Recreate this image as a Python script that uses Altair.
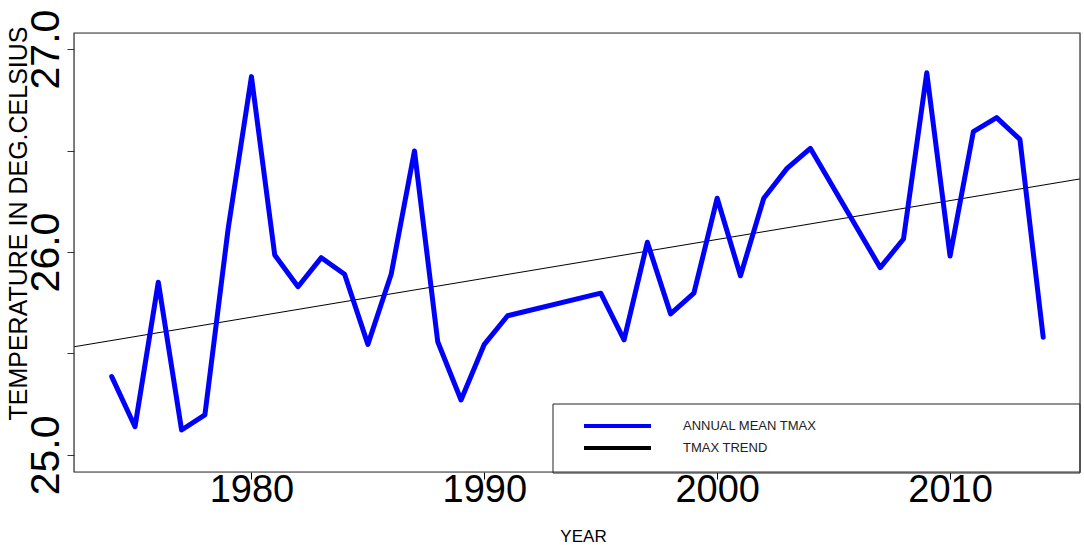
import altair as alt
import pandas as pd

# ---- data ----
years = [1974, 1975, 1976, 1977, 1978, 1979, 1980, 1981, 1982, 1983, 1984,
         1985, 1986, 1987, 1988, 1989, 1990, 1991, 1995, 1996, 1997, 1998,
         1999, 2000, 2001, 2002, 2003, 2004, 2007, 2008, 2009, 2010, 2011,
         2012, 2013, 2014]
tmax = [25.386, 25.139, 25.851, 25.123, 25.197, 26.115, 26.864, 25.985, 25.829,
        25.972, 25.890, 25.545, 25.890, 26.498, 25.558, 25.271, 25.545, 25.686,
        25.797, 25.567, 26.048, 25.695, 25.797, 26.265, 25.883, 26.265, 26.412,
        26.511, 25.923, 26.064, 26.883, 25.980, 26.593, 26.662, 26.555, 25.580]
trend_years = [1972.38, 2015.58]
trend_vals = [25.533, 26.360]
x_ticks = [1980, 1990, 2000, 2010]
y_ticks = [25.0, 25.5, 26.0, 26.5, 27.0]
legend_labels = ["ANNUAL MEAN TMAX", "TMAX TREND"]
legend_colors = ["#0000ff", "#000000"]

FONT = "Liberation Sans"

df = pd.DataFrame({"year": years, "tmax": tmax})
trend_df = pd.DataFrame({"year": trend_years, "tmax": trend_vals})

xscale = alt.Scale(domain=[1972.38, 2015.58], nice=False, zero=False)
yscale = alt.Scale(domain=[24.916, 27.079], nice=False, zero=False)

xaxis = alt.Axis(
    values=x_ticks, format="d", title="YEAR", grid=False, domain=False,
    labelFont=FONT, labelFontSize=38, labelColor="black", labelPadding=-8,
    labelBaseline="top", labelAlign="center", labelFlush=False, labelOverlap=False,
    tickSize=7, tickColor="black",
    titleFont=FONT, titleFontSize=17, titleFontWeight="normal", titleColor="black",
    titleX=509, titleY=69, titleBaseline="alphabetic",
)
yaxis = alt.Axis(
    values=y_ticks,
    labelExpr="datum.value % 1 == 0 ? format(datum.value, '.1f') : ''",
    title="TEMPERATURE IN DEG.CELSIUS", grid=False, domain=False,
    labelFont=FONT, labelFontSize=41, labelColor="black", labelAngle=270,
    labelAlign="center", labelBaseline="alphabetic", labelPadding=9,
    labelOverlap=False, labelBound=False, labelFlush=False,
    tickSize=7, tickColor="#333",
    titleFont=FONT, titleFontSize=25, titleFontWeight="normal", titleColor="black",
    titleAngle=270, titleX=-56, titleY=190, titleBaseline="middle", titleAlign="center",
)

base = alt.Chart(df)

trend = alt.Chart(trend_df).mark_line(color="black", strokeWidth=1).encode(
    x=alt.X("year:Q", scale=xscale, axis=xaxis),
    y=alt.Y("tmax:Q", scale=yscale, axis=yaxis),
)

line = base.mark_line(color="#0000ff", strokeWidth=5, strokeJoin="round",
                      strokeCap="round").encode(
    x=alt.X("year:Q", scale=xscale, axis=xaxis),
    y=alt.Y("tmax:Q", scale=yscale, axis=yaxis),
)

one = pd.DataFrame({"k": [0]})
legend_box = alt.Chart(one).mark_rect(fill="white", stroke="#222", strokeWidth=1).encode(
    x=alt.value(479), x2=alt.value(1006), y=alt.value(371), y2=alt.value(440)
)
leg_line1 = alt.Chart(one).mark_rule(color=legend_colors[0], strokeWidth=4).encode(
    x=alt.value(510), x2=alt.value(577), y=alt.value(393)
)
leg_line2 = alt.Chart(one).mark_rule(color=legend_colors[1], strokeWidth=4).encode(
    x=alt.value(510), x2=alt.value(577), y=alt.value(415)
)
leg_text1 = alt.Chart(one).mark_text(font=FONT, fontSize=13, align="left",
                                     baseline="middle", color="#222").encode(
    x=alt.value(609), y=alt.value(393), text=alt.value(legend_labels[0])
)
leg_text2 = alt.Chart(one).mark_text(font=FONT, fontSize=13, align="left",
                                     baseline="middle", color="#222").encode(
    x=alt.value(609), y=alt.value(415), text=alt.value(legend_labels[1])
)
frame = alt.Chart(one).mark_rect(fill=None, fillOpacity=0, stroke="#333",
                                 strokeWidth=1.2).encode(
    x=alt.value(0), x2=alt.value(1006), y=alt.value(0), y2=alt.value(439)
)

chart = alt.layer(
    trend, line, legend_box, leg_line1, leg_line2, leg_text1, leg_text2, frame
).properties(
    width=1006, height=439, autosize="none",
    padding={"left": 74, "top": 33, "right": 4, "bottom": 73},
    background="white",
).configure_view(stroke=None).configure(font=FONT)

chart.save("out.html", embed_options={"renderer": "svg", "actions": False})
